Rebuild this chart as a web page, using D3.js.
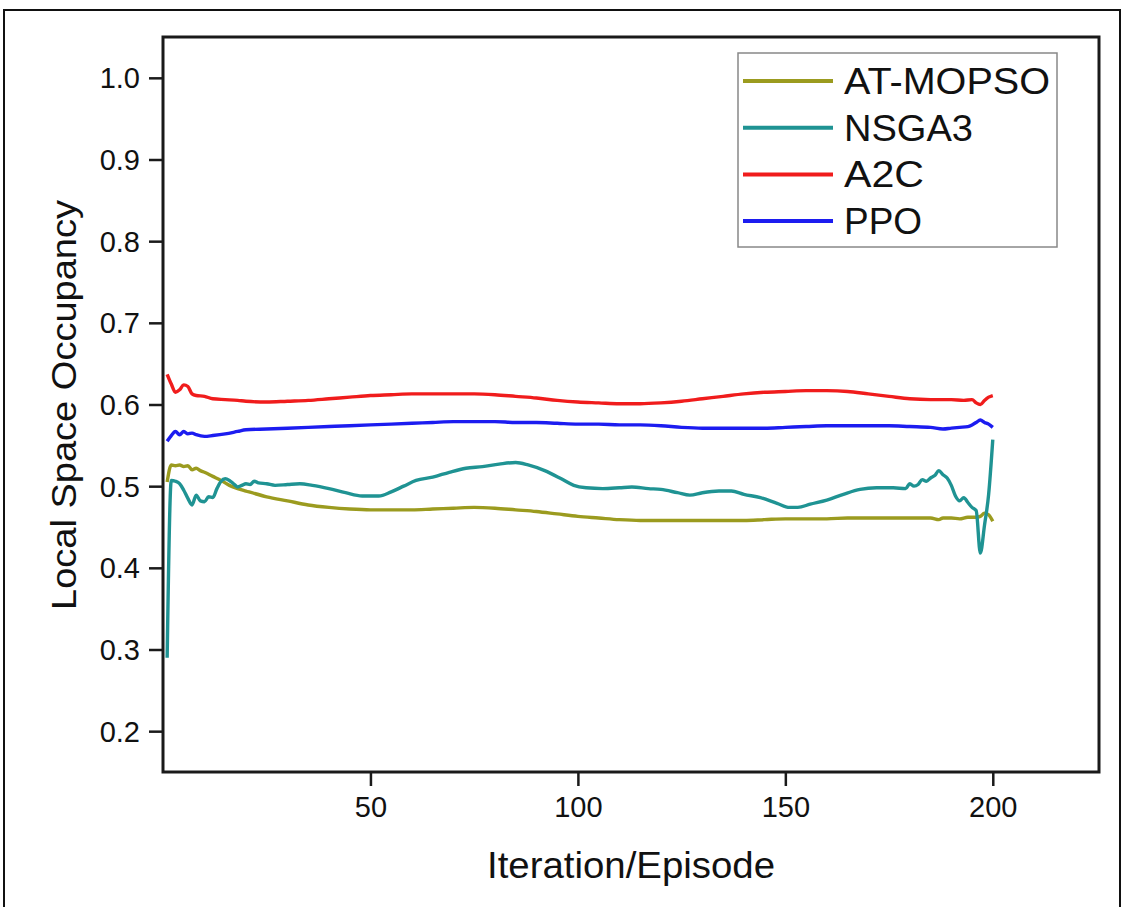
<!DOCTYPE html>
<html>
<head>
<meta charset="utf-8">
<script src="https://cdn.jsdelivr.net/npm/d3@7"></script>
<style>
  html, body { margin: 0; padding: 0; background: #fff; }
  svg text { font-family: "Liberation Sans", Arial, sans-serif; fill: #111; }
</style>
</head>
<body>
<div id="chart"></div>
<script>
// series names, colours in legend order
const seriesNames = ["AT-MOPSO", "NSGA3", "A2C", "PPO"];
const seriesColors = ["#9b9b1f", "#1f9393", "#f01c1c", "#1c1cf0"];

// AT-MOPSO
const atEp  = [1,2,3,4,5,6,7,8,9,10,12,14,16,18,20,25,30,35,40,45,50,55,60,65,70,75,80,85,90,95,100,105,110,115,120,125,130,135,140,145,150,155,160,165,170,175,180,185,187,188,190,192,194,196,197,198,199,200];
const atVal = [0.505,0.526,0.525,0.526,0.524,0.525,0.520,0.522,0.519,0.517,0.512,0.507,0.501,0.497,0.494,0.487,0.482,0.477,0.474,0.472,0.471,0.471,0.471,0.472,0.473,0.474,0.473,0.471,0.469,0.466,0.463,0.461,0.459,0.458,0.458,0.458,0.458,0.458,0.458,0.459,0.460,0.460,0.460,0.461,0.461,0.461,0.461,0.461,0.459,0.461,0.461,0.460,0.462,0.462,0.463,0.467,0.465,0.457];

// NSGA3
const nsEp  = [1,2,3,4,5,6,7,8,9,10,11,12,13,14,15,16,17,18,19,20,21,22,23,25,27,30,33,36,40,44,48,52,55,58,61,65,69,73,77,81,85,88,92,96,99,102,106,110,113,117,120,124,127,130,134,137,140,144,148,151,153,156,160,164,168,172,176,179,180,181,182,183,184,185,186,187,188,189,190,191,192,193,194,195,196,197,198,199,200];
const nsVal = [0.290,0.507,0.506,0.503,0.495,0.485,0.477,0.489,0.482,0.481,0.487,0.486,0.497,0.506,0.509,0.507,0.503,0.499,0.501,0.503,0.502,0.506,0.504,0.503,0.501,0.502,0.503,0.501,0.497,0.492,0.488,0.488,0.493,0.500,0.507,0.511,0.517,0.522,0.524,0.527,0.529,0.526,0.519,0.509,0.501,0.498,0.497,0.498,0.499,0.497,0.496,0.492,0.489,0.492,0.494,0.494,0.490,0.486,0.479,0.474,0.474,0.478,0.483,0.490,0.496,0.498,0.498,0.497,0.503,0.500,0.502,0.508,0.506,0.510,0.513,0.519,0.514,0.510,0.501,0.488,0.482,0.486,0.480,0.474,0.470,0.418,0.452,0.490,0.557];

// A2C
const a2cEp  = [1,2,3,4,5,6,7,8,10,12,15,18,20,25,30,35,40,45,50,55,60,65,70,75,80,85,90,95,100,105,110,115,120,125,130,135,140,145,150,155,160,165,170,175,180,185,190,193,195,196,197,198,199,200];
const a2cVal = [0.637,0.625,0.615,0.618,0.624,0.622,0.613,0.611,0.610,0.607,0.606,0.605,0.604,0.603,0.604,0.605,0.607,0.609,0.611,0.612,0.613,0.613,0.613,0.613,0.612,0.610,0.608,0.605,0.603,0.602,0.601,0.601,0.602,0.604,0.607,0.610,0.613,0.615,0.616,0.617,0.617,0.616,0.613,0.610,0.607,0.606,0.606,0.605,0.606,0.602,0.600,0.605,0.609,0.611];

// PPO
const ppoEp  = [1,2,3,4,5,6,7,8,10,12,15,18,20,25,30,35,40,45,50,55,60,65,70,75,80,85,90,95,100,105,110,115,120,125,130,135,140,145,150,155,160,165,170,175,180,185,188,190,192,194,195,196,197,198,199,200];
const ppoVal = [0.555,0.562,0.567,0.563,0.567,0.564,0.565,0.563,0.561,0.562,0.564,0.567,0.569,0.570,0.571,0.572,0.573,0.574,0.575,0.576,0.577,0.578,0.579,0.579,0.579,0.578,0.578,0.577,0.576,0.576,0.575,0.575,0.574,0.572,0.571,0.571,0.571,0.571,0.572,0.573,0.574,0.574,0.574,0.574,0.573,0.572,0.570,0.571,0.572,0.573,0.575,0.578,0.581,0.578,0.576,0.572];

const xTicks = [50, 100, 150, 200];
const yTicks = [0.2, 0.3, 0.4, 0.5, 0.6, 0.7, 0.8, 0.9, 1.0];

const W = 1123, H = 907;
const plot = { left: 163, right: 1099, top: 37, bottom: 772 };

const series = [
  { name: seriesNames[0], color: seriesColors[0], ep: atEp, val: atVal },
  { name: seriesNames[1], color: seriesColors[1], ep: nsEp, val: nsVal },
  { name: seriesNames[2], color: seriesColors[2], ep: a2cEp, val: a2cVal },
  { name: seriesNames[3], color: seriesColors[3], ep: ppoEp, val: ppoVal }
];

const svg = d3.select("#chart").append("svg")
  .attr("width", W).attr("height", H);

// outer frame of the figure
svg.append("rect")
  .attr("x", 4).attr("y", 10)
  .attr("width", 1116).attr("height", 920)
  .attr("fill", "none").attr("stroke", "#111").attr("stroke-width", 2);

const x = d3.scaleLinear().domain([0, 225.6]).range([plot.left, plot.right]);
const y = d3.scaleLinear().domain([0.15, 1.05]).range([plot.bottom, plot.top]);

// lines (drawn first so the frame sits on top)
const line = d3.line()
  .x(d => x(d[0]))
  .y(d => y(d[1]))
  .curve(d3.curveMonotoneX);

svg.append("g").selectAll("path")
  .data(series)
  .join("path")
  .attr("d", s => line(s.ep.map((e, i) => [e, s.val[i]])))
  .attr("fill", "none")
  .attr("stroke", s => s.color)
  .attr("stroke-width", 3.4)
  .attr("stroke-linejoin", "round");

// axes
const yAxis = svg.append("g")
  .attr("transform", `translate(${plot.left},0)`)
  .call(d3.axisLeft(y).tickValues(yTicks).tickFormat(d3.format(".1f")).tickSize(14).tickPadding(9));

const xAxis = svg.append("g")
  .attr("transform", `translate(0,${plot.bottom})`)
  .call(d3.axisBottom(x).tickValues(xTicks).tickSize(14).tickPadding(10));

[xAxis, yAxis].forEach(a => {
  a.select(".domain").remove();
  a.selectAll(".tick line").attr("stroke", "#1a1a1a").attr("stroke-width", 2.5);
  a.selectAll(".tick text")
    .style("font-size", "29px")
    .style("font-family", "'Liberation Sans', Arial, sans-serif")
    .attr("fill", "#111");
});
yAxis.selectAll(".tick text").attr("dy", "0.35em");

// plot frame
svg.append("rect")
  .attr("x", plot.left).attr("y", plot.top)
  .attr("width", plot.right - plot.left).attr("height", plot.bottom - plot.top)
  .attr("fill", "none").attr("stroke", "#1a1a1a").attr("stroke-width", 3);

// axis titles
svg.append("text")
  .attr("x", 631).attr("y", 878)
  .attr("text-anchor", "middle")
  .attr("textLength", 288).attr("lengthAdjust", "spacingAndGlyphs")
  .style("font-size", "36px")
  .text("Iteration/Episode");

svg.append("text")
  .attr("transform", "translate(76,405) rotate(-90)")
  .attr("text-anchor", "middle")
  .attr("textLength", 410).attr("lengthAdjust", "spacingAndGlyphs")
  .style("font-size", "35px")
  .text("Local Space Occupancy");

// legend
const legend = svg.append("g").attr("transform", "translate(738,53)");
legend.append("rect")
  .attr("width", 319).attr("height", 194)
  .attr("fill", "#fff").attr("stroke", "#888").attr("stroke-width", 1.5);

const legendWidths = [206, 129, 80, 78];
const rows = legend.selectAll("g.row")
  .data(series)
  .join("g")
  .attr("class", "row")
  .attr("transform", (d, i) => `translate(0,${28 + i * 46.7})`);

rows.append("line")
  .attr("x1", 5).attr("x2", 95)
  .attr("stroke", d => d.color).attr("stroke-width", 4);

rows.append("text")
  .attr("x", 106).attr("y", 13)
  .attr("textLength", (d, i) => legendWidths[i]).attr("lengthAdjust", "spacingAndGlyphs")
  .style("font-size", "36px")
  .text(d => d.name);
</script>
</body>
</html>
